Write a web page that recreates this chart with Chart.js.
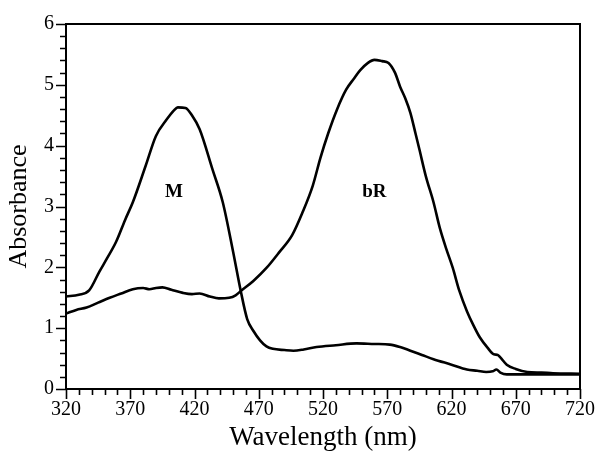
<!DOCTYPE html>
<html>
<head>
<meta charset="utf-8">
<script src="https://cdn.jsdelivr.net/npm/chart.js@4"></script>
<style>
	html, body { margin: 0; padding: 0; background: #fff; }
	#wrap { width: 597px; height: 457px; position: relative; }
</style>
</head>
<body>
<div id="wrap"><canvas id="chart"></canvas></div>
<script>
	// Axis ranges and tick settings.
	var X_MIN = 320, X_MAX = 720, X_MAJOR = 50, X_MINOR = 10;
	var Y_MIN = 0, Y_MAX = 6, Y_MAJOR = 1, Y_MINOR = 0.2;

	// M spectrum.
	var mWave = [320, 330, 338, 346, 352, 359, 366, 372, 382, 390, 398, 404, 407, 413, 418, 424, 434, 442, 450, 456, 461, 466, 471, 476, 481, 490, 497, 505, 515, 530, 546, 560, 572, 580, 588, 597, 606, 620, 632, 640, 647, 652, 655, 658, 663, 683, 700, 720];
	var mAbs  = [1.52, 1.55, 1.62, 1.93, 2.15, 2.42, 2.78, 3.07, 3.67, 4.16, 4.42, 4.58, 4.63, 4.62, 4.50, 4.27, 3.61, 3.07, 2.26, 1.61, 1.15, 0.95, 0.80, 0.70, 0.66, 0.64, 0.63, 0.65, 0.69, 0.72, 0.75, 0.74, 0.73, 0.69, 0.63, 0.56, 0.49, 0.40, 0.32, 0.30, 0.28, 0.29, 0.32, 0.27, 0.24, 0.24, 0.24, 0.24];

	// bR spectrum.
	var bRWave = [320, 328, 336, 345, 354, 363, 372, 380, 385, 390, 395, 402, 411, 418, 424, 432, 439, 447, 452, 456, 466, 476, 486, 496, 504, 512, 518, 524, 531, 538, 544, 549, 555, 560, 566, 571, 576, 580, 584, 588, 592, 595, 600, 606, 611, 616, 621, 626, 632, 637, 642, 648, 653, 656, 658, 663, 670, 679, 690, 699, 720];
	var bRAbs  = [1.24, 1.30, 1.34, 1.42, 1.50, 1.57, 1.64, 1.66, 1.64, 1.66, 1.67, 1.63, 1.58, 1.56, 1.57, 1.52, 1.49, 1.50, 1.54, 1.61, 1.78, 1.99, 2.25, 2.53, 2.90, 3.34, 3.80, 4.20, 4.60, 4.92, 5.10, 5.24, 5.36, 5.41, 5.39, 5.36, 5.20, 4.97, 4.78, 4.54, 4.20, 3.94, 3.50, 3.07, 2.64, 2.30, 1.99, 1.62, 1.28, 1.05, 0.85, 0.68, 0.57, 0.56, 0.52, 0.40, 0.33, 0.28, 0.27, 0.26, 0.25];

	// Curve labels: text, wavelength, absorbance.
	var curveLabels = ['M', 'bR'];
	var curveLabelX = [404, 560];
	var curveLabelY = [3.24, 3.24];

	var SERIF = "'Liberation Serif', 'DejaVu Serif', serif";

	function toPoints(xs, ys) {
		return xs.map(function (x, i) { return { x: x, y: ys[i] }; });
	}

	function isMultiple(v, base, step) {
		var r = Math.abs((v - base) / step);
		return Math.abs(r - Math.round(r)) < 1e-6;
	}

	// Frame plus outward tick marks, drawn from the scales' own ticks.
	var framePlugin = {
		id: 'frame',
		afterDraw: function (chart) {
			var ctx = chart.ctx;
			var a = chart.chartArea;
			var xs = chart.scales.x;
			var ys = chart.scales.y;
			ctx.save();
			ctx.strokeStyle = '#000';
			ctx.lineWidth = 2;
			ctx.strokeRect(a.left, a.top, a.right - a.left, a.bottom - a.top);

			ctx.lineWidth = 1.6;
			ctx.beginPath();
			xs.ticks.forEach(function (t) {
				var px = Math.round(xs.getPixelForValue(t.value)) + 0.5;
				var len = isMultiple(t.value, X_MIN, X_MAJOR) ? 10 : 6;
				ctx.moveTo(px, a.bottom);
				ctx.lineTo(px, a.bottom + len);
			});
			ys.ticks.forEach(function (t) {
				var py = Math.round(ys.getPixelForValue(t.value)) + 0.5;
				var len = isMultiple(t.value, Y_MIN, Y_MAJOR) ? 10 : 6;
				ctx.moveTo(a.left, py);
				ctx.lineTo(a.left - len, py);
			});
			ctx.stroke();

			// Curve names.
			ctx.fillStyle = '#000';
			ctx.font = 'bold 19px ' + SERIF;
			ctx.textAlign = 'center';
			ctx.textBaseline = 'middle';
			curveLabels.forEach(function (txt, i) {
				ctx.fillText(txt, xs.getPixelForValue(curveLabelX[i]), ys.getPixelForValue(curveLabelY[i]));
			});
			ctx.restore();
		}
	};

	new Chart(document.getElementById('chart'), {
		type: 'line',
		data: {
			datasets: [
				{
					label: 'M',
					data: toPoints(mWave, mAbs),
					borderColor: '#000',
					borderWidth: 2.6,
					pointRadius: 0,
					cubicInterpolationMode: 'monotone',
					fill: false
				},
				{
					label: 'bR',
					data: toPoints(bRWave, bRAbs),
					borderColor: '#000',
					borderWidth: 2.6,
					pointRadius: 0,
					cubicInterpolationMode: 'monotone',
					fill: false
				}
			]
		},
		options: {
			responsive: true,
			maintainAspectRatio: false,
			animation: false,
			layout: { padding: { top: 20, right: 17, left: 0, bottom: 0 } },
			plugins: {
				legend: { display: false },
				tooltip: { enabled: false }
			},
			scales: {
				x: {
					type: 'linear',
					min: X_MIN,
					max: X_MAX,
					grid: { display: false, drawTicks: true, tickLength: 9 },
					border: { display: false },
					ticks: {
						stepSize: X_MINOR,
						autoSkip: false,
						maxRotation: 0,
						padding: 0,
						color: '#000',
						font: { family: SERIF, size: 20 },
						callback: function (v) {
							return isMultiple(v, X_MIN, X_MAJOR) ? String(Math.round(v)) : '';
						}
					},
					title: {
						display: true,
						text: 'Wavelength (nm)',
						color: '#000',
						font: { family: SERIF, size: 27 },
						padding: { top: 0, bottom: 3 }
					},
					afterFit: function (s) { s.height = 68; }
				},
				y: {
					min: Y_MIN,
					max: Y_MAX,
					grid: { display: false, drawTicks: false },
					border: { display: false },
					ticks: {
						stepSize: Y_MINOR,
						autoSkip: false,
						padding: 12,
						color: '#000',
						font: { family: SERIF, size: 20 },
						callback: function (v) {
							return isMultiple(v, Y_MIN, Y_MAJOR) ? String(Math.round(v)) : '';
						}
					},
					title: {
						display: true,
						text: 'Absorbance',
						color: '#000',
						font: { family: SERIF, size: 26 },
						padding: { top: 4, bottom: 0 }
					},
					afterFit: function (s) { s.width = 66; }
				}
			}
		},
		plugins: [framePlugin]
	});
</script>
</body>
</html>
